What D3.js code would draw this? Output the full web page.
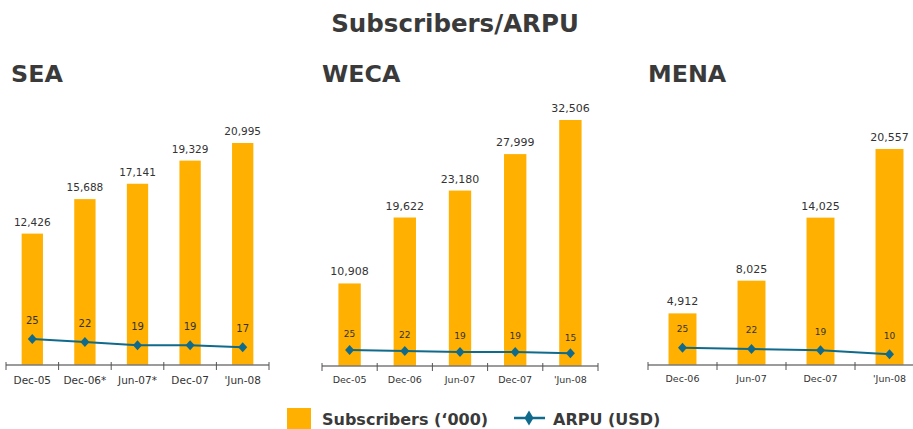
<!DOCTYPE html>
<html>
<head>
<meta charset="utf-8">
<script src="https://cdn.jsdelivr.net/npm/d3@7"></script>
<style>
  body { margin: 0; background: #fff; }
  svg { display: block; font-family: "DejaVu Sans", Verdana, sans-serif; }
</style>
</head>
<body>
<div id="chart"></div>
<script>
// data
const seaCategories = ["Dec-05", "Dec-06*", "Jun-07*", "Dec-07", "'Jun-08"];
const seaSubscribers = [12426, 15688, 17141, 19329, 20995];
const seaArpu = [25, 22, 19, 19, 17];

const wecaCategories = ["Dec-05", "Dec-06", "Jun-07", "Dec-07", "'Jun-08"];
const wecaSubscribers = [10908, 19622, 23180, 27999, 32506];
const wecaArpu = [25, 22, 19, 19, 15];

const menaCategories = ["Dec-06", "Jun-07", "Dec-07", "'Jun-08"];
const menaSubscribers = [4912, 8025, 14025, 20557];
const menaArpu = [25, 22, 19, 10];

const barColor = "#ffb000";
const lineColor = "#0f6a8c";
const textColor = "#3a3a3a";

const width = 913, height = 429;

const svg = d3.select("#chart").append("svg")
    .attr("width", width)
    .attr("height", height);

svg.append("text")
    .attr("x", 455)
    .attr("y", 32)
    .attr("text-anchor", "middle")
    .style("font-size", "24.5px")
    .style("font-weight", "bold")
    .style("fill", textColor)
    .text("Subscribers/ARPU");

// one panel per region
const panels = [
    { name: "SEA", cats: seaCategories, subs: seaSubscribers, arpu: seaArpu,
      titleX: 11, x0: 6, x1: 269, axisY: 365, topY: 143,
      arpuY: [347.3, 339], arpuOff: 15.5, arpuFont: 10, catFont: 10.5, valFont: 10.5, catY: 384 },
    { name: "WECA", cats: wecaCategories, subs: wecaSubscribers, arpu: wecaArpu,
      titleX: 322, x0: 322, x1: 598, axisY: 366, topY: 120,
      arpuY: [353.3, 350], arpuOff: 12.8, arpuFont: 9, catFont: 9.5, valFont: 11, catY: 383 },
    { name: "MENA", cats: menaCategories, subs: menaSubscribers, arpu: menaArpu,
      titleX: 648, x0: 648, x1: 924, axisY: 365, topY: 149,
      arpuY: [354.3, 347.7], arpuOff: 15.8, arpuFont: 9, catFont: 9.5, valFont: 11, catY: 382 }
];

panels.forEach(p => {
    let g = svg.append("g");

    g.append("text")
        .attr("x", p.titleX)
        .attr("y", 81.5)
        .style("font-size", "23.8px")
        .style("font-weight", "bold")
        .style("fill", textColor)
        .text(p.name);

    let x = d3.scaleBand()
        .domain(p.cats)
        .range([p.x0, p.x1])
        .padding(0);

    let y = d3.scaleLinear()
        .domain([0, d3.max(p.subs)])
        .range([p.axisY, p.topY]);

    let yA = d3.scaleLinear()
        .domain(d3.extent(p.arpu))
        .range(p.arpuY);

    let bw = x.bandwidth() * 0.405;
    let data = p.cats.map((c, i) => ({ cat: c, subs: p.subs[i], arpu: p.arpu[i] }));

    g.selectAll(".bar")
        .data(data)
        .enter()
        .append("rect")
        .attr("class", "bar")
        .attr("x", d => x(d.cat) + x.bandwidth() / 2 - bw / 2)
        .attr("y", d => y(d.subs))
        .attr("width", bw)
        .attr("height", d => p.axisY - y(d.subs))
        .attr("fill", barColor);

    g.selectAll(".bar-label")
        .data(data)
        .enter()
        .append("text")
        .attr("class", "bar-label")
        .attr("x", d => x(d.cat) + x.bandwidth() / 2)
        .attr("y", d => y(d.subs) - 8)
        .attr("text-anchor", "middle")
        .style("font-size", p.valFont + "px")
        .style("fill", "#333")
        .text(d => d3.format(",")(d.subs));

    // axis: line, ticks at band edges, labels centred
    g.append("line")
        .attr("x1", p.x0).attr("x2", p.x1)
        .attr("y1", p.axisY).attr("y2", p.axisY)
        .attr("stroke", "#7a7a7a")
        .attr("stroke-width", 1.6);

    let edges = p.cats.map(c => x(c)).concat([p.x1]);
    g.selectAll(".tick")
        .data(edges)
        .enter()
        .append("line")
        .attr("class", "tick")
        .attr("x1", d => d).attr("x2", d => d)
        .attr("y1", p.axisY - 3).attr("y2", p.axisY + 5)
        .attr("stroke", "#555")
        .attr("stroke-width", 1);

    g.selectAll(".cat")
        .data(data)
        .enter()
        .append("text")
        .attr("class", "cat")
        .attr("x", d => x(d.cat) + x.bandwidth() / 2)
        .attr("y", p.catY)
        .attr("text-anchor", "middle")
        .style("font-size", p.catFont + "px")
        .style("fill", "#333")
        .text(d => d.cat);

    // ARPU line
    let line = d3.line()
        .x(d => x(d.cat) + x.bandwidth() / 2)
        .y(d => yA(d.arpu));

    g.append("path")
        .datum(data)
        .attr("d", line)
        .attr("fill", "none")
        .attr("stroke", lineColor)
        .attr("stroke-width", 2);

    g.selectAll(".pt")
        .data(data)
        .enter()
        .append("path")
        .attr("class", "pt")
        .attr("transform", d => `translate(${x(d.cat) + x.bandwidth() / 2},${yA(d.arpu)})`)
        .attr("d", "M0,-5L4.5,0L0,5L-4.5,0Z")
        .attr("fill", lineColor);

    g.selectAll(".arpu-label")
        .data(data)
        .enter()
        .append("text")
        .attr("class", "arpu-label")
        .attr("x", d => x(d.cat) + x.bandwidth() / 2)
        .attr("y", d => yA(d.arpu) - p.arpuOff)
        .attr("text-anchor", "middle")
        .style("font-size", p.arpuFont + "px")
        .style("fill", "#333")
        .text(d => d.arpu);
});

// legend
let legend = svg.append("g");
legend.append("rect")
    .attr("x", 287).attr("y", 408)
    .attr("width", 24).attr("height", 22)
    .attr("fill", barColor);
legend.append("text")
    .attr("x", 322).attr("y", 424.5)
    .style("font-size", "16px")
    .style("font-weight", "bold")
    .style("fill", textColor)
    .text("Subscribers (\u2018000)");
legend.append("line")
    .attr("x1", 514).attr("x2", 545)
    .attr("y1", 418).attr("y2", 418)
    .attr("stroke", lineColor)
    .attr("stroke-width", 2.5);
legend.append("path")
    .attr("transform", "translate(529,418)")
    .attr("d", "M0,-7.5L4.5,0L0,7.5L-4.5,0Z")
    .attr("fill", lineColor);
legend.append("text")
    .attr("x", 553).attr("y", 424.5)
    .style("font-size", "16px")
    .style("font-weight", "bold")
    .style("fill", textColor)
    .text("ARPU (USD)");
</script>
</body>
</html>
